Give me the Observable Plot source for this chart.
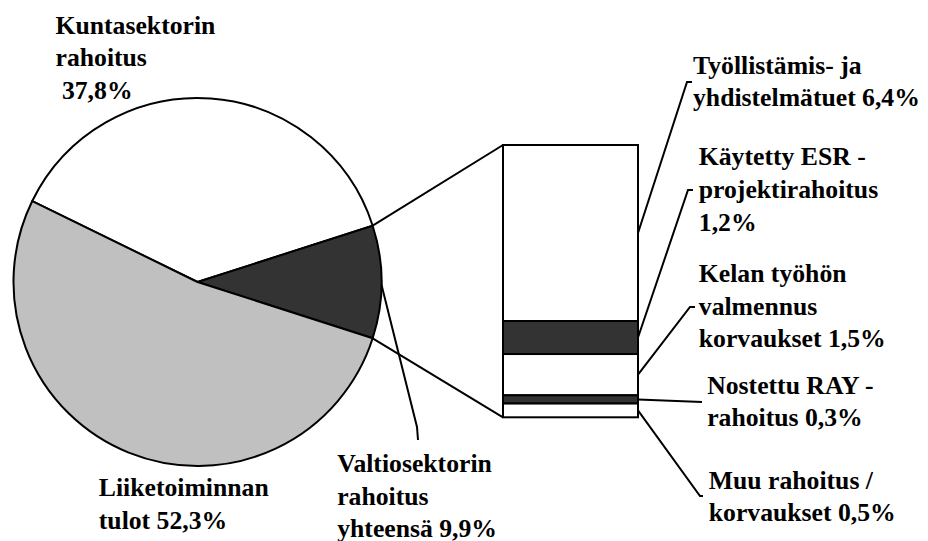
<!DOCTYPE html>
<html>
<head>
<meta charset="utf-8">
<script src="https://cdn.jsdelivr.net/npm/d3@7"></script>
<script src="https://cdn.jsdelivr.net/npm/@observablehq/plot@0.6"></script>
<style>
  html, body { margin: 0; padding: 0; background: #ffffff; }
  #chart svg { display: block; }
  #chart svg text, #chart svg tspan { font-family: "Liberation Serif", "DejaVu Serif", serif !important; font-weight: bold !important; }
</style>
</head>
<body>
<div id="chart"></div>
<script>
// ---------------- DATA ----------------
const pieCategories = ["Kuntasektorin\nrahoitus", "Valtiosektorin\nrahoitus\nyhteensä", "Liiketoiminnan\ntulot"];
const pieValues = [37.8, 9.9, 52.3];
const pieBreakoutIndex = 1; // "Valtiosektorin rahoitus yhteensä" is broken out into the bar

const barCategories = [
  "Työllistämis- ja\nyhdistelmätuet",
  "Käytetty ESR -\nprojektirahoitus",
  "Kelan työhön\nvalmennus\nkorvaukset",
  "Nostettu RAY -\nrahoitus",
  "Muu rahoitus /\nkorvaukset"
];
const barValues = [6.4, 1.2, 1.5, 0.3, 0.5];

// separators between name and value in labels
const pieValueSeparators = ["\n\u00a0", " ", " "];
const barValueSeparators = [" ", "\n", " ", " ", " "];

// ---------------- STYLE / LAYOUT ----------------
const pieFills = ["#ffffff", "#333333", "#c0c0c0"];
const barFills = ["#ffffff", "#333333", "#ffffff", "#333333", "#ffffff"];
const layout = {
  width: 928, height: 541,
  pie: {cx: 197.5, cy: 282, r: 184},
  bar: {x1: 503, x2: 638, top: 145, bottom: 417.3},
  font: {size: 25.7, lineHeight: 1.27, family: "Liberation Serif, DejaVu Serif, serif"},
  stroke: 2
};
const pieLabelPos = [[55, 33.3], [336.7, 471.7], [98.3, 496]];          // [x, first baseline]
const barLabelPos = [[692.5, 73.3], [698.3, 165], [698.3, 281.7], [706.7, 393.3], [708.3, 488.3]];
const barLeaderRoutes = [[[687, 82], [692, 82]], [[688, 190], [693, 190]], [[690, 307], [695, 307]], [[702, 402]], [[700, 496], [703, 496]]];
const pieLeaderRoute = [[417, 427], [418, 440]];

// ---------------- HELPERS ----------------
const fmt = v => v.toFixed(1).replace(".", ",") + "%";
const pieTotal = d3.sum(pieValues);
const barTotal = d3.sum(barValues);
const pieAngles = pieValues.map(v => v / pieTotal * 2 * Math.PI);
const pieStart = Math.PI / 2 - pieAngles[pieBreakoutIndex] / 2 - d3.sum(pieAngles.slice(0, pieBreakoutIndex));
const pieArcs = d3.pie().sort(null).value(d => d).startAngle(pieStart).endAngle(pieStart + 2 * Math.PI)(pieValues);
const polar = (a, r) => [layout.pie.cx + r * Math.sin(a), layout.pie.cy - r * Math.cos(a)];

const barData = barValues.map((v, i) => ({name: barCategories[i], value: v, i}));

// Pie mark (custom render through Plot)
function pieMark() {
  const g = d3.create("svg:g").attr("transform", `translate(${layout.pie.cx},${layout.pie.cy})`);
  const arc = d3.arc().innerRadius(0).outerRadius(layout.pie.r);
  g.selectAll("path").data(pieArcs).join("path")
    .attr("d", arc)
    .attr("fill", (d, i) => pieFills[i])
    .attr("stroke", "#000")
    .attr("stroke-width", layout.stroke)
    .attr("stroke-linejoin", "round");
  return g.node();
}

// Connector + leader lines
function linesMark(index, scales) {
  const y = scales && scales.y ? scales.y : d3.scaleLinear([0, barTotal], [layout.bar.bottom, layout.bar.top]);
  const g = d3.create("svg:g").attr("fill", "none").attr("stroke", "#000").attr("stroke-width", layout.stroke).attr("stroke-linejoin", "miter");
  const b = pieArcs[pieBreakoutIndex];
  const p0 = polar(b.startAngle, layout.pie.r);
  const p1 = polar(b.endAngle, layout.pie.r);
  const line = d3.line();
  g.append("path").attr("d", line([p0, [layout.bar.x1, y(barTotal)]]));
  g.append("path").attr("d", line([p1, [layout.bar.x1, y(0)]]));
  // bar leaders
  let cum = barTotal;
  barValues.forEach((v, i) => {
    const mid = cum - v / 2;
    cum -= v;
    g.append("path").attr("d", line([[layout.bar.x2, y(mid)], ...barLeaderRoutes[i]]));
  });
  // pie leader (Valtiosektorin)
  const ma = (b.startAngle + b.endAngle) / 2 + 0.015;
  g.append("path").attr("d", line([polar(ma, layout.pie.r), ...pieLeaderRoute]));
  return g.node();
}

const textStyle = {
  frameAnchor: "top-left",
  textAnchor: "start",
  lineAnchor: "top",
  lineHeight: layout.font.lineHeight,
  fontSize: layout.font.size,
  fontWeight: "bold",
  fontFamily: layout.font.family,
  fill: "#000"
};
const firstBaselineOffset = 0.71 * layout.font.lineHeight * layout.font.size;

const pieLabelMarks = pieCategories.map((c, i) =>
  Plot.text([c + pieValueSeparators[i] + fmt(pieValues[i])], {
    ...textStyle, text: d => d, dx: pieLabelPos[i][0], dy: pieLabelPos[i][1] - firstBaselineOffset
  }));
const barLabelMarks = barCategories.map((c, i) =>
  Plot.text([c + barValueSeparators[i] + fmt(barValues[i])], {
    ...textStyle, text: d => d, dx: barLabelPos[i][0], dy: barLabelPos[i][1] - firstBaselineOffset
  }));

const chart = Plot.plot({
  width: layout.width,
  height: layout.height,
  margin: 0,
  style: {background: "#ffffff", overflow: "visible"},
  x: {type: "identity", axis: null},
  y: {type: "linear", domain: [0, barTotal], range: [layout.bar.bottom, layout.bar.top], axis: null},
  marks: [
    pieMark,
    linesMark,
    Plot.rectY(barData, Plot.stackY({
      x1: layout.bar.x1, x2: layout.bar.x2, y: "value", reverse: true,
      fill: d => barFills[d.i], stroke: "#000", strokeWidth: layout.stroke
    })),
    ...pieLabelMarks,
    ...barLabelMarks
  ]
});
document.getElementById("chart").append(chart);
</script>
</body>
</html>
